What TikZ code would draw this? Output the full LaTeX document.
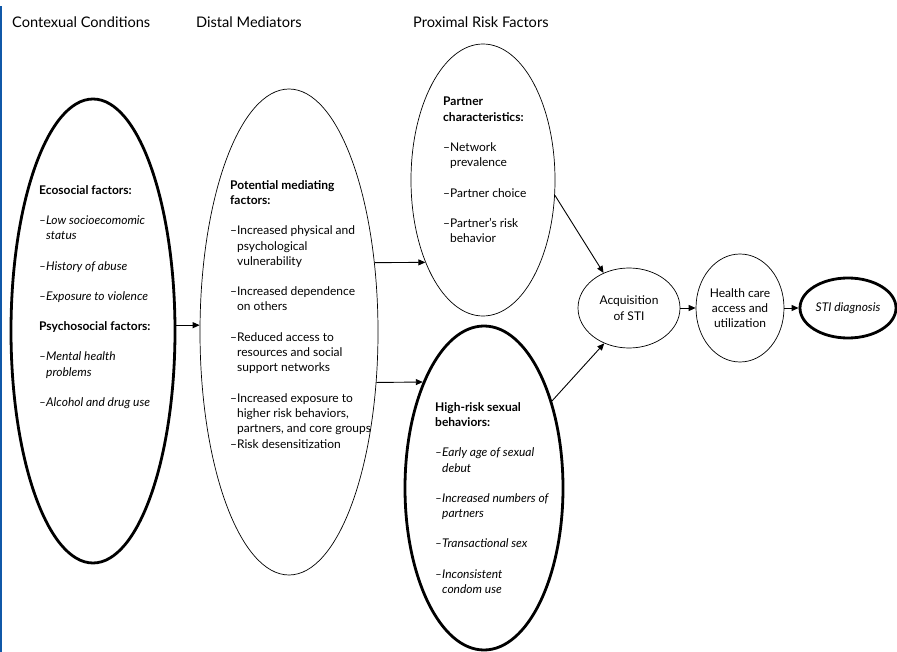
\documentclass[tikz,border=0pt]{standalone}
\usepackage{fontspec}
\setmainfont{Lato}
\usetikzlibrary{shapes,arrows.meta}
\definecolor{rimblue}{RGB}{16,88,168}
\newcommand{\hang}{\hphantom{–}}

\begin{document}
\begin{tikzpicture}[x=1pt, y=-1pt, >={Triangle[length=7pt,width=6pt]},
      every node/.append style={font=\fontsize{12}{15.3}\selectfont, inner sep=0pt}]
    \tikzstyle{oval} = [draw, ellipse, line width=0.7pt, align=center]
    \tikzstyle{bold oval} = [draw, ellipse, line width=2.8pt, align=center]
    \tikzstyle{words} = [align=left, anchor=north west]
    \tikzstyle{heading} = [font=\fontsize{14.6}{16}\selectfont, anchor=west]
    \tikzstyle{arr} = [->, line width=0.9pt]
    \useasboundingbox (0,0) rectangle (897,652);
    \fill[rimblue] (0,6) rectangle (2,652);

    \node[heading] (ctxhead) at (12,22) {Contexual Conditions};
    \node[heading] (disthead) at (196,22) {Distal Mediators};
    \node[heading] (proxhead) at (413,22) {Proximal Risk Factors};

    \node[bold oval, minimum width=164pt, minimum height=464pt] (ctx) at (93,331) {};
    \node[oval, minimum width=178pt, minimum height=486pt] (distal) at (289,332) {};
    \node[oval, minimum width=144pt, minimum height=272pt] (partner) at (483,180) {};
    \node[bold oval, minimum width=158pt, minimum height=324pt] (risk) at (484,488) {};
    \node[oval, minimum width=102pt, minimum height=80pt] (acq) at (629,308) {Acquisition\\of STI};
    \node[oval, minimum width=88pt, minimum height=108pt] (care) at (740,308) {Health care\\access and\\utilization};
    \node[bold oval, minimum width=96pt, minimum height=60pt] (diag) at (848,308) {\textit{STI diagnosis}};

    \node[words] (ctxtext) at (39,185) {\textbf{Ecosocial factors:}\\[15pt]
      \textit{–Low socioecomomic}\\ \textit{\hang status}\\[15pt]
      \textit{–History of abuse}\\[15pt]
      \textit{–Exposure to violence}\\[15pt]
      \textbf{Psychosocial factors:}\\[15pt]
      \textit{–Mental health}\\ \textit{\hang problems}\\[15pt]
      \textit{–Alcohol and drug use}};
    \node[words] (disttext) at (230,180) {\textbf{Potential mediating}\\ \textbf{factors:}\\[15pt]
      –Increased physical and\\ \hang psychological\\ \hang vulnerability\\[15pt]
      –Increased dependence\\ \hang on others\\[15pt]
      –Reduced access to\\ \hang resources and social\\ \hang support networks\\[15pt]
      –Increased exposure to\\ \hang higher risk behaviors,\\ \hang partners, and core groups\\
      –Risk desensitization};
    \node[words] (parttext) at (443,97) {\textbf{Partner}\\ \textbf{characteristics:}\\[15pt]
      –Network\\ \hang prevalence\\[15pt]
      –Partner choice\\[15pt]
      –Partner’s risk\\ \hang behavior};
    \node[words] (risktext) at (435,402) {\textbf{High-risk sexual}\\ \textbf{behaviors:}\\[15pt]
      \textit{–Early age of sexual}\\ \textit{\hang debut}\\[15pt]
      \textit{–Increased numbers of}\\ \textit{\hang partners}\\[15pt]
      \textit{–Transactional sex}\\[15pt]
      \textit{–Inconsistent}\\ \textit{\hang condom use}};

    \draw[arr] (ctx.4) -- (ctx.4 -| distal.west);
    \draw[arr] (distal.39) -- (partner.235.5);
    \draw[arr] (distal.-30) -- (risk.120);
    \draw[arr] (partner.-12) -- (acq.126);
    \draw[arr] (risk.52) -- (acq.235);
    \draw[arr] (acq) -- (care);
    \draw[arr] (care) -- (diag);
\end{tikzpicture}
\end{document}
